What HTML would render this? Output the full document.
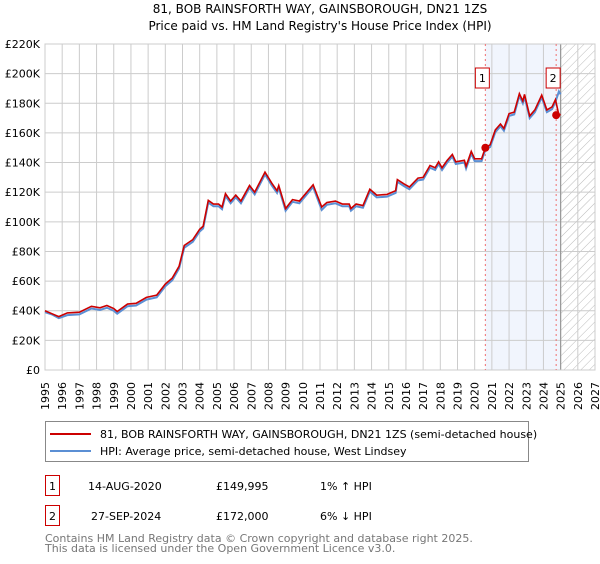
<!DOCTYPE html>
<html><head><meta charset="utf-8"><style>
body{margin:0;background:#fff;font-family:"DejaVu Sans","Liberation Sans",sans-serif;}
svg text{font-family:"DejaVu Sans","Liberation Sans",sans-serif;}
</style></head><body>
<svg id="chart" width="600" height="560" xmlns="http://www.w3.org/2000/svg">
<defs><pattern id="hatch" width="6" height="6" patternUnits="userSpaceOnUse" patternTransform="rotate(45)"><line x1="0" y1="0" x2="0" y2="6" stroke="#bbb" stroke-width="1"/></pattern></defs>
<text x="320" y="13" font-size="12" text-anchor="middle">81, BOB RAINSFORTH WAY, GAINSBOROUGH, DN21 1ZS</text>
<text x="320" y="30" font-size="12" text-anchor="middle">Price paid vs. HM Land Registry's House Price Index (HPI)</text>
<g id="grid"></g>
<g id="marks"></g>
<g id="legend">
<rect x="45.5" y="421.5" width="483" height="40" fill="#fff" stroke="#888"/>
<line x1="50" y1="434" x2="91" y2="434" stroke="#cc0000" stroke-width="2"/>
<text x="100" y="438" font-size="11">81, BOB RAINSFORTH WAY, GAINSBOROUGH, DN21 1ZS (semi-detached house)</text>
<line x1="50" y1="451" x2="91" y2="451" stroke="#5b8fd4" stroke-width="2"/>
<text x="100" y="455" font-size="11">HPI: Average price, semi-detached house, West Lindsey</text>
</g>
<g font-size="11">
<rect x="45.5" y="475.5" width="14" height="20" fill="#fff" stroke="#cc0000"/>
<text x="52.5" y="490" text-anchor="middle">1</text>
<text x="88" y="490">14-AUG-2020</text>
<text x="216" y="490">£149,995</text>
<text x="320" y="490">1% ↑ HPI</text>
</g>
<g font-size="11">
<rect x="45.5" y="505.5" width="14" height="20" fill="#fff" stroke="#cc0000"/>
<text x="52.5" y="520" text-anchor="middle">2</text>
<text x="91" y="520">27-SEP-2024</text>
<text x="216" y="520">£172,000</text>
<text x="320" y="520">6% ↓ HPI</text>
</g>
<text x="45" y="542" font-size="11" fill="#777">Contains HM Land Registry data © Crown copyright and database right 2025.</text>
<text x="45" y="552" font-size="11" fill="#777">This data is licensed under the Open Government Licence v3.0.</text>
</svg>
<script>
const yearsTicks=[1995,1996,1997,1998,1999,2000,2001,2002,2003,2004,2005,2006,2007,2008,2009,2010,2011,2012,2013,2014,2015,2016,2017,2018,2019,2020,2021,2022,2023,2024,2025,2026,2027];
const valueTicks=[0,20,40,60,80,100,120,140,160,180,200,220];
const valueTickLabels=["£0","£20K","£40K","£60K","£80K","£100K","£120K","£140K","£160K","£180K","£200K","£220K"];
const times=[1995.0,1995.4,1995.8,1996.3,1997.0,1997.7,1998.2,1998.6,1999.0,1999.2,1999.8,2000.3,2000.9,2001.5,2002.0,2002.4,2002.8,2003.1,2003.6,2004.0,2004.2,2004.5,2004.8,2005.1,2005.3,2005.5,2005.8,2006.1,2006.4,2006.9,2007.2,2007.8,2008.2,2008.5,2008.6,2009.0,2009.4,2009.8,2010.6,2011.1,2011.4,2011.9,2012.3,2012.7,2012.8,2013.1,2013.5,2013.9,2014.3,2014.9,2015.4,2015.5,2015.9,2016.2,2016.7,2017.0,2017.4,2017.7,2017.9,2018.1,2018.4,2018.7,2018.9,2019.4,2019.5,2019.8,2020.0,2020.4,2020.62,2020.9,2021.2,2021.5,2021.7,2022.0,2022.3,2022.6,2022.8,2022.9,2023.2,2023.5,2023.9,2024.2,2024.5,2024.7,2024.9,2025.0];
const hpiValues=[39,37.5,35,37,37.5,41.5,40.5,42,40,38,43,43.5,47.5,49,56.5,60.5,68.5,82.5,86.5,93.5,95.5,113,110.5,110.5,108.5,117.5,112.5,116.5,112.5,123,118.5,132,124.5,119.5,123,107.5,113.5,112.5,123.5,108,111.5,112.5,110.5,110.5,107.5,110.5,109.5,120.5,116.5,117,119.5,127,124,122,128,128.5,136.5,135,139,135,140,144,139,140,136,146,141,141,148.5,150.5,160.5,164.5,161.5,171.5,172.5,185,180,184.5,170,174,184,174,176,181,188,186];
const priceValues=[40,38,36,38.5,39,43,42,43.5,41.5,39.5,44.5,45,49,50.5,58,62,70,84,88,95,97,114.5,112,112,110,119,114,118,114,124.5,120,133.5,126,121,124.5,109,115,114,125,110,113,114,112,112,109,112,111,122,118,118.5,121,128.5,125.5,123.5,129.5,130,138,136.5,140.5,136.5,141.5,145.5,140.5,141.5,137.5,147.5,142.5,142.5,150,152,162,166,163,173,174,186.5,181.5,186,171.5,175.5,185.5,175.5,177.5,182.5,172,172.5];
const saleTimes=[2020.62,2024.74];
const saleValues=[149.995,172];
const saleLabels=["1","2"];
const NS="http://www.w3.org/2000/svg";
const X0=45,X1=595,Y0=370,Y1=44;
const xs=t=>X0+(t-1995)/(2027-1995)*(X1-X0);
const ys=v=>Y0-v/220*(Y0-Y1);
function mk(tag,attrs,parent){const e=document.createElementNS(NS,tag);for(const k in attrs)e.setAttribute(k,attrs[k]);parent.appendChild(e);return e;}
const grid=document.getElementById('grid'),marks=document.getElementById('marks');
const band=mk('rect',{x:xs(saleTimes[0]),y:Y1,width:xs(2025)-xs(saleTimes[0]),height:Y0-Y1,fill:'#eef3fc',opacity:0.8},grid);


const hatch=mk('rect',{x:xs(2025),y:Y1,width:X1-xs(2025),height:Y0-Y1,fill:'url(#hatch)'},grid);


yearsTicks.forEach(y=>{
 const l=mk('line',{x1:xs(y),x2:xs(y),y1:Y1,y2:Y0,stroke:'#ccc'},grid);
 
 
 const t=mk('text',{x:0,y:0,'font-size':11,'text-anchor':'end',transform:`translate(${xs(y)+4},382) rotate(-90)`},grid);
 t.textContent=y;
 
 
});
valueTicks.forEach((v,i)=>{
 const l=mk('line',{x1:X0,x2:X1,y1:ys(v),y2:ys(v),stroke:'#ccc'},grid);
 
 
 const t=mk('text',{x:40,y:ys(v)+4,'font-size':11,'text-anchor':'end'},grid);
 t.textContent=valueTickLabels[i];
 
 
});
const nowL=mk('line',{x1:xs(2025),x2:xs(2025),y1:Y1,y2:Y0,stroke:'#999','stroke-width':1.2},grid);


const frame=mk('rect',{x:X0,y:Y1,width:X1-X0,height:Y0-Y1,fill:'none',stroke:'#ccc'},grid);


saleTimes.forEach((t,i)=>{
 const l=mk('line',{x1:xs(t),x2:xs(t),y1:Y1,y2:Y0,stroke:'#f07070','stroke-dasharray':'2,3'},marks);
 
 
});
const hp=mk('polyline',{points:times.map((t,i)=>xs(t)+','+ys(hpiValues[i])).join(' '),fill:'none',stroke:'#5b8fd4','stroke-width':2},marks);


const pp=mk('polyline',{points:times.map((t,i)=>xs(t)+','+ys(priceValues[i])).join(' '),fill:'none',stroke:'#cc0000','stroke-width':1.6},marks);


saleTimes.forEach((t,i)=>{
 const c=mk('circle',{cx:xs(t),cy:ys(saleValues[i]),r:4,fill:'#cc0000'},marks);
 
 
 const b=mk('rect',{x:xs(t)-10,y:68,width:14,height:20,fill:'#fff',stroke:'#cc0000'},marks);
 
 
 const tx=mk('text',{x:xs(t)-3,y:82,'font-size':11,'text-anchor':'middle'},marks);
 tx.textContent=saleLabels[i];
 
 
});
</script>
</body></html>
